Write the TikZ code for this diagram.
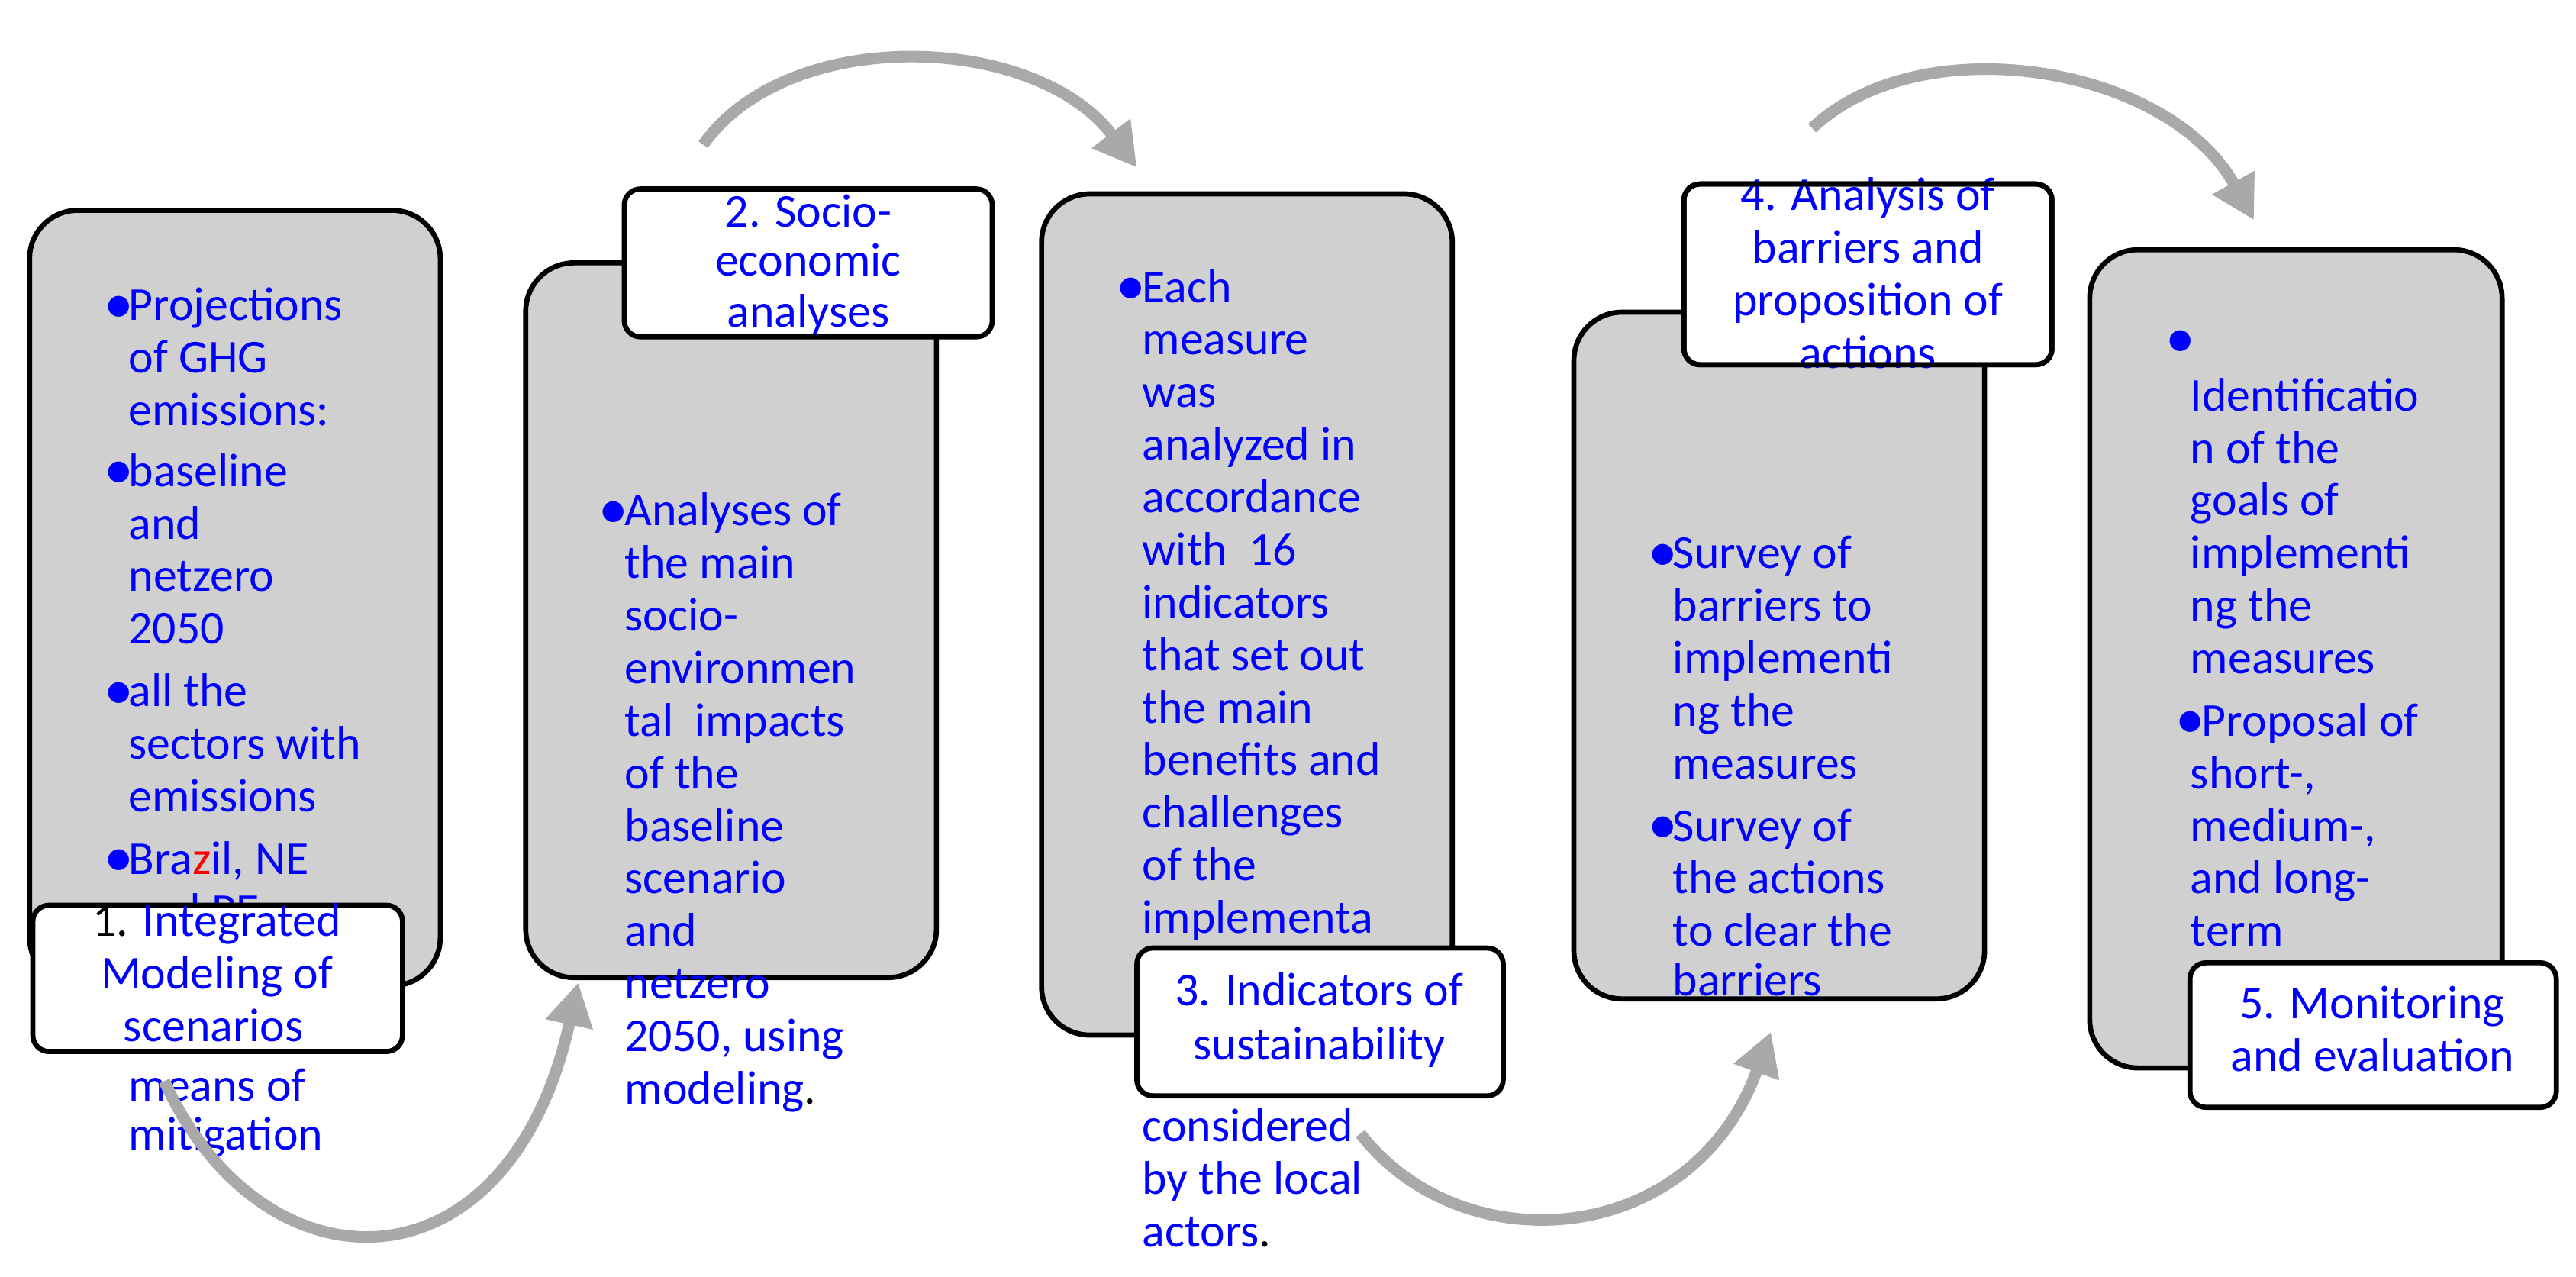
\documentclass[tikz,border=0pt]{standalone}
\usepackage{fontspec}
\setmainfont{Carlito}
\usetikzlibrary{fit,arrows.meta}
\definecolor{gfill}{HTML}{D0D0D0}
\definecolor{arr}{HTML}{A9A9A9}
\definecolor{tb}{HTML}{0000FF}
\newcommand{\tl}[3]{\node[txt] at (#1,#2) {#3};}
\newcommand{\bl}[2]{\node[txt] at (#1,#2) {\fontsize{22}{19.5}\selectfont\raisebox{-1pt}{\textbullet}};}
\begin{document}
\begin{tikzpicture}[x=0.021524cm,y=-0.021524cm,
  gbox/.style={draw=black,line width=1.9pt,fill=gfill,rounded corners=18pt,inner sep=0pt},
  lbox/.style={draw=black,line width=1.9pt,fill=white,rounded corners=6pt,inner sep=0pt},
  txt/.style={anchor=base west,inner sep=0pt,text=tb,font=\fontsize{17.6}{19.5}\selectfont},
  ltxt/.style={anchor=base,inner sep=0pt,text=tb,font=\fontsize{17.6}{19.5}\selectfont},
  arrw/.style={draw=arr,line width=4.3pt,-{Triangle[length=16pt,width=17pt]}}]
\useasboundingbox (0,0) rectangle (1568,777);
% coordinates
\coordinate (b1a) at (18,128); \coordinate (b1b) at (268,600);
\coordinate (l1a) at (20,551); \coordinate (l1b) at (245,640);
\coordinate (b2a) at (320,160); \coordinate (b2b) at (570,595);
\coordinate (l2a) at (380,115); \coordinate (l2b) at (604,205);
\coordinate (b3a) at (634,118); \coordinate (b3b) at (884,630);
\coordinate (l3a) at (692,577); \coordinate (l3b) at (915,667);
\coordinate (b4a) at (958,190); \coordinate (b4b) at (1208,608);
\coordinate (l4a) at (1025,112); \coordinate (l4b) at (1249,222);
\coordinate (b5a) at (1272,152); \coordinate (b5b) at (1523,650);
\coordinate (l5a) at (1333,586); \coordinate (l5b) at (1556,674);
% arrows
\coordinate (a1s) at (100,658); \coordinate (a1e) at (352,598);
\coordinate (a2s) at (428,88); \coordinate (a2e) at (692,102);
\coordinate (a3s) at (828,690); \coordinate (a3e) at (1078,628);
\coordinate (a4s) at (1103,78); \coordinate (a4e) at (1372,134);
\draw[arrw] (a2s) .. controls (480,15) and (630,20) .. (a2e);
\draw[arrw] (a4s) .. controls (1170,15) and (1320,40) .. (a4e);
% box 1
\node[gbox,fit=(b1a)(b1b)] (b1) {};
\bl{63}{195}\tl{78}{195}{Projections}\tl{78}{227}{of GHG}\tl{78}{259}{emissions:}
\bl{63}{296}\tl{78}{296}{baseline}\tl{78}{328}{and}\tl{78}{360}{netzero}\tl{78}{392}{2050}
\bl{63}{430}\tl{78}{430}{all the}\tl{78}{462}{sectors with}\tl{78}{494}{emissions}
\bl{63}{532}\tl{78}{532}{Bra\textcolor{red}{z}il, NE}\tl{78}{564}{and PE}
\tl{78}{670}{means of}\tl{78}{700}{mitigation}
\node[lbox,fit=(l1a)(l1b)] (l1) {};
\node[ltxt] at (132,570) {\textcolor{black}{1.} Integrated};
\node[ltxt] at (132,602) {Modeling of};
\node[ltxt] at (130,634) {scenarios};
% box 2
\node[gbox,fit=(b2a)(b2b)] (b2) {};
\bl{364}{320}\tl{380}{320}{Analyses of}\tl{380}{352}{the main}\tl{380}{384}{socio-}
\tl{380}{416}{environmen}\tl{380}{448}{tal\ \ impacts}\tl{380}{480}{of the}\tl{380}{512}{baseline}
\tl{380}{544}{scenario}\tl{380}{576}{and}\tl{380}{608}{netzero}\tl{380}{640}{2050, using}
\tl{380}{672}{modeling\textcolor{black}{.}}
\node[lbox,fit=(l2a)(l2b)] (l2) {};
\node[ltxt] at (492,138) {2. Socio-};
\node[ltxt] at (492,168) {economic};
\node[ltxt] at (492,199) {analyses};
% box 3
\node[gbox,fit=(b3a)(b3b)] (b3) {};
\bl{679}{184}\tl{695}{184}{Each}\tl{695}{216}{measure}\tl{695}{248}{was}
\tl{695}{280}{analyzed in}\tl{695}{312}{accordance}\tl{695}{344}{with\ \ 16}
\tl{695}{376}{indicators}\tl{695}{408}{that set out}\tl{695}{440}{the main}
\tl{695}{472}{benefits and}\tl{695}{504}{challenges}\tl{695}{536}{of the}
\tl{695}{568}{implementa}
\tl{695}{695}{considered}\tl{695}{727}{by the local}\tl{695}{759}{actors\textcolor{black}{.}}
\node[lbox,fit=(l3a)(l3b)] (l3) {};
\node[ltxt] at (803,612) {3. Indicators of};
\node[ltxt] at (803,645) {sustainability};
% box 4
\node[gbox,fit=(b4a)(b4b)] (b4) {};
\bl{1003}{346}\tl{1018}{346}{Survey of}\tl{1018}{378}{barriers to}\tl{1018}{410}{implementi}
\tl{1018}{442}{ng the}\tl{1018}{474}{measures}
\bl{1003}{512}\tl{1018}{512}{Survey of}\tl{1018}{544}{the actions}\tl{1018}{576}{to clear the}
\tl{1018}{606}{barriers}
\node[lbox,fit=(l4a)(l4b)] (l4) {};
\node[ltxt] at (1137,128) {4. Analysis of};
\node[ltxt] at (1137,160) {barriers and};
\node[ltxt] at (1137,192) {proposition of};
\node[ltxt] at (1137,224) {actions};
\draw[line width=1.9pt,rounded corners=6pt] (l4a) rectangle (l4b);
% box 5
\node[gbox,fit=(b5a)(b5b)] (b5) {};
\bl{1318}{216}
\tl{1333}{250}{Identificatio}\tl{1333}{282}{n of the}\tl{1333}{314}{goals of}
\tl{1333}{346}{implementi}\tl{1333}{378}{ng the}\tl{1333}{410}{measures}
\bl{1324}{448}\tl{1340}{448}{Proposal of}\tl{1333}{480}{short-,}\tl{1333}{512}{medium-,}
\tl{1333}{544}{and long-}\tl{1333}{576}{term}
\node[lbox,fit=(l5a)(l5b)] (l5) {};
\node[ltxt] at (1444,620) {5. Monitoring};
\node[ltxt] at (1444,652) {and evaluation};
% lower arrows
\draw[arrw] (a1s) .. controls (160,790) and (310,790) .. (a1e);
\draw[arrw] (a3s) .. controls (890,770) and (1030,760) .. (a3e);
\end{tikzpicture}
\end{document}
